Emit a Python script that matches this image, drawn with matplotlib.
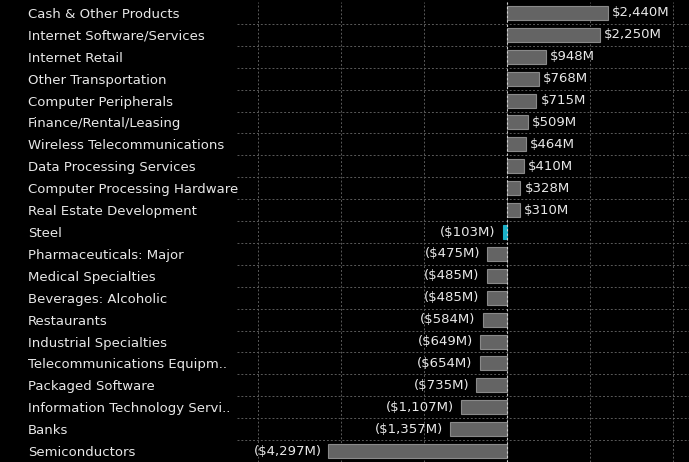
#!/usr/bin/env python
import numpy as np
import matplotlib
matplotlib.use('Agg')
import matplotlib.pyplot as plt
from matplotlib.ticker import FixedLocator, NullFormatter

# industry names, top to bottom
industries = [
    'Cash & Other Products', 'Internet Software/Services', 'Internet Retail',
    'Other Transportation', 'Computer Peripherals', 'Finance/Rental/Leasing',
    'Wireless Telecommunications', 'Data Processing Services',
    'Computer Processing Hardware', 'Real Estate Development', 'Steel',
    'Pharmaceuticals: Major', 'Medical Specialties', 'Beverages: Alcoholic',
    'Restaurants', 'Industrial Specialties', 'Telecommunications Equipm..',
    'Packaged Software', 'Information Technology Servi..', 'Banks',
    'Semiconductors',
]
# net flows, $M
flows = [2440, 2250, 948, 768, 715, 509, 464, 410, 328, 310, -103,
         -475, -485, -485, -584, -649, -654, -735, -1107, -1357, -4297]
highlight = 'Steel'


def fmt(v):
    s = '${:,.0f}M'.format(abs(v))
    return '(' + s + ')' if v < 0 else s


def main():
    fig = plt.figure(figsize=(6.89, 4.62), dpi=100, facecolor='black')
    ax = fig.add_axes([237 / 689, 0.0, 1 - 237 / 689, 1 - 2 / 462])
    ax.set_facecolor('black')

    y = np.arange(len(industries))
    cols = ['#1ab0c8' if n == highlight else '#646464' for n in industries]
    edges = ['#1ab0c8' if n == highlight else '#8a8a8a' for n in industries]
    ax.barh(y, flows, height=0.64, color=cols, edgecolor=edges, linewidth=0.8, zorder=3)

    for yi, v in zip(y, flows):
        if v >= 0:
            ax.annotate(fmt(v), (v, yi), xytext=(3, 0), textcoords='offset points',
                        ha='left', va='center', color='#e8e8e8', fontsize=9.5)
        else:
            ax.annotate(fmt(v), (v, yi), xytext=(-5, 0), textcoords='offset points',
                        ha='right', va='center', color='#e8e8e8', fontsize=9.5)

    ax.set_xlim(-6500, 4390)
    ax.set_ylim(len(industries) - 0.5, -0.5)

    ax.xaxis.set_major_locator(FixedLocator([-6000, -4000, -2000, 0, 2000, 4000]))
    ax.xaxis.set_major_formatter(NullFormatter())
    ax.yaxis.set_major_locator(FixedLocator(y))
    ax.set_yticklabels(industries)
    ax.yaxis.set_minor_locator(FixedLocator(y[:-1] + 0.5))
    ax.tick_params(axis='both', which='both', length=0)
    ax.tick_params(axis='y', pad=(237 - 28) * 0.72, labelcolor='#e8e8e8', labelsize=9.5)
    for lab in ax.get_yticklabels():
        lab.set_horizontalalignment('left')

    ax.grid(axis='x', which='major', color='#5a5a5a', linestyle=(0, (2, 2)), linewidth=0.7, zorder=0)
    ax.grid(axis='y', which='minor', color='#5a5a5a', linestyle=(0, (2, 2)), linewidth=0.7, zorder=0)
    ax.axvline(0, color='#d0d0d0', linestyle=(0, (2, 2)), linewidth=0.8, zorder=4)

    for s in ax.spines.values():
        s.set_visible(False)

    fig.savefig('out.png', dpi=100, facecolor='black')


if __name__ == "__main__":
    main()
